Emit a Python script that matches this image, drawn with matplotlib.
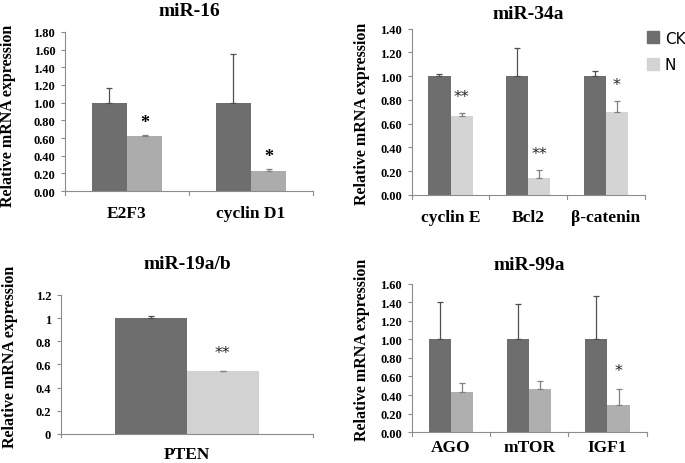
import matplotlib
matplotlib.use("Agg")
import matplotlib.pyplot as plt
import numpy as np

# miR-16
genes_16 = ["E2F3", "cyclin D1"]
ck_16 = [1.00, 1.00]
ck_err_16 = [0.17, 0.55]
n_16 = [0.62, 0.23]
n_err_16 = [0.02, 0.02]
stars_16 = ["*", "*"]

# miR-34a
genes_34 = ["cyclin E", "Bcl2", "β-catenin"]
ck_34 = [1.00, 1.00, 1.00]
ck_err_34 = [0.02, 0.24, 0.04]
n_34 = [0.66, 0.14, 0.70]
n_err_34 = [0.03, 0.07, 0.09]
stars_34 = ["**", "**", "*"]

# miR-19a/b
genes_19 = ["PTEN"]
ck_19 = [1.00]
ck_err_19 = [0.02]
n_19 = [0.54]
n_err_19 = [0.005]
stars_19 = ["**"]

# miR-99a
genes_99 = ["AGO", "mTOR", "IGF1"]
ck_99 = [1.00, 1.00, 1.00]
ck_err_99 = [0.40, 0.38, 0.47]
n_99 = [0.43, 0.46, 0.29]
n_err_99 = [0.10, 0.09, 0.18]
stars_99 = ["", "", "*"]

CK_COLOR = "#6e6e6e"
SERIF = "Liberation Serif"
AXIS_COLOR = "#8c8c8c"


def draw_panel(ax, title, genes, ck, ck_err, n, n_err, stars, n_color,
               ymax, ystep, fmt, title_pad, star_off, star_style, xlab_pad):
    x = np.arange(len(genes))
    w = 0.285
    n_cnt = len(genes)
    ax.bar(x - w / 2, ck, w, color=CK_COLOR, linewidth=0,
           yerr=[np.zeros(n_cnt), ck_err],
           error_kw=dict(ecolor="#505050", elinewidth=0.9, capsize=2, capthick=0.9))
    ax.bar(x + w / 2, n, w, color=n_color, linewidth=0,
           yerr=[np.zeros(n_cnt), n_err],
           error_kw=dict(ecolor="#808080", elinewidth=0.9, capsize=2, capthick=0.9))
    for i, s in enumerate(stars):
        if s:
            y = n[i] + n_err[i] + star_off
            if star_style == "serif":
                ax.text(x[i] + w / 2, y, s, ha="center", va="center",
                        fontsize=13, fontweight="bold", family=SERIF)
            else:
                ax.text(x[i] + w / 2, y, s, ha="center", va="center",
                        fontsize=11.5, color="#222222", family="DejaVu Sans")
    ax.set_xlim(-0.5, n_cnt - 0.5)
    ax.set_ylim(0, ymax)
    ticks = np.arange(0, ymax + ystep / 2, ystep)
    ax.set_yticks(ticks)
    ax.set_yticklabels([fmt.format(t) for t in ticks], family=SERIF,
                       fontweight="bold", fontsize=9)
    ax.set_xticks(x)
    ax.set_xticklabels(genes, family=SERIF, fontweight="bold", fontsize=12.5)
    ax.tick_params(axis="x", length=0, pad=xlab_pad)
    ax.tick_params(axis="y", length=3, width=0.8, color=AXIS_COLOR, pad=4)
    # boundary ticks between categories
    for b in np.arange(-0.5, n_cnt, 1.0):
        ax.plot([b, b], [0, -0.025 * ymax], color=AXIS_COLOR, lw=0.8,
                clip_on=False)
    for sp in ["top", "right"]:
        ax.spines[sp].set_visible(False)
    for sp in ["left", "bottom"]:
        ax.spines[sp].set_color(AXIS_COLOR)
        ax.spines[sp].set_linewidth(0.8)
    ax.set_title(title, family=SERIF, fontweight="bold", fontsize=14,
                 pad=title_pad)


fig = plt.figure(figsize=(6.85, 4.64), dpi=100)

ax1 = fig.add_axes([0.0949, 0.586, 0.362, 0.343])
draw_panel(ax1, "miR-16", genes_16, ck_16, ck_err_16, n_16, n_err_16, stars_16,
           "#acacac", 1.80, 0.20, "{:.2f}", 12, 0.14, "serif", 10)

ax2 = fig.add_axes([0.601, 0.578, 0.340, 0.358])
draw_panel(ax2, "miR-34a", genes_34, ck_34, ck_err_34, n_34, n_err_34, stars_34,
           "#d4d4d4", 1.40, 0.20, "{:.2f}", 8, 0.14, "sans", 10)

ax3 = fig.add_axes([0.089, 0.0625, 0.368, 0.300])
draw_panel(ax3, "miR-19a/b", genes_19, ck_19, ck_err_19, n_19, n_err_19, stars_19,
           "#d2d2d2", 1.2, 0.2, "{:g}", 19, 0.16, "sans", 9)

ax4 = fig.add_axes([0.601, 0.0668, 0.343, 0.319])
draw_panel(ax4, "miR-99a", genes_99, ck_99, ck_err_99, n_99, n_err_99, stars_99,
           "#afafaf", 1.60, 0.20, "{:.2f}", 11, 0.19, "sans", 5)

ylabel = "Relative mRNA expression"
for xp, yp in [(0.012, 1 - 116 / 464), (0.528, 1 - 114 / 464),
               (0.015, 1 - 357 / 464), (0.528, 1 - 350 / 464)]:
    fig.text(xp, yp, ylabel, rotation=90, ha="center", va="center",
             family=SERIF, fontweight="bold", fontsize=11.5)

# legend (for the CK / N series), placed beside miR-34a
handles = [plt.Rectangle((0, 0), 1, 1, color=CK_COLOR),
           plt.Rectangle((0, 0), 1, 1, color="#d4d4d4")]
fig.legend(handles, ["CK", "N"], loc="upper left",
           bbox_to_anchor=(0.935, 0.945), frameon=False,
           prop={"family": "DejaVu Sans", "size": 11},
           handlelength=0.8, handleheight=0.8, handletextpad=0.4,
           labelspacing=0.75, borderaxespad=0)

fig.savefig("out.png", dpi=100)
